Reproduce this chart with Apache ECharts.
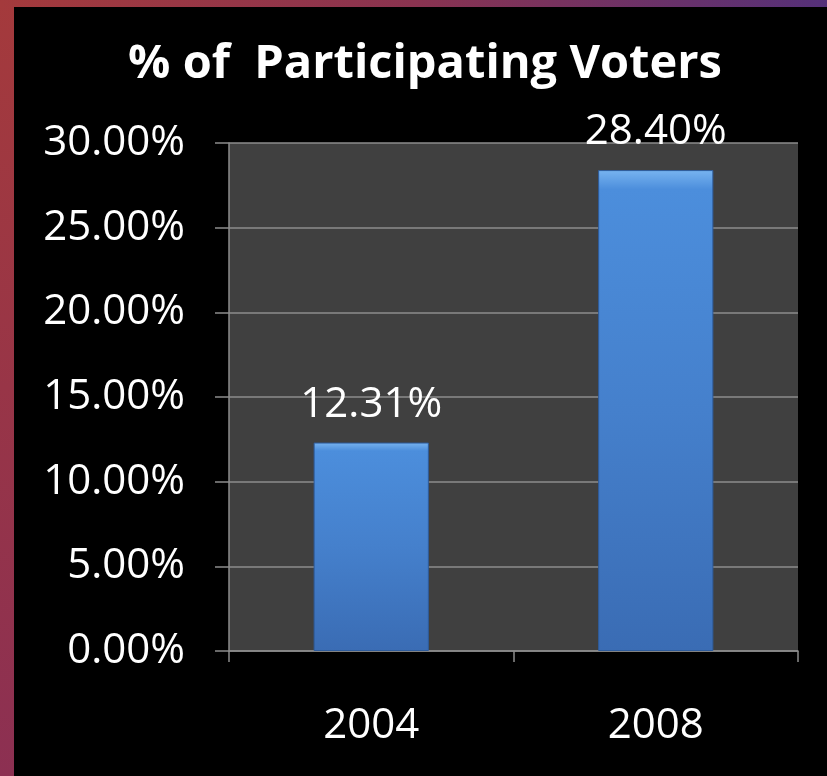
<!DOCTYPE html>
<html>
<head>
<meta charset="utf-8">
<script src="https://cdn.jsdelivr.net/npm/echarts@6/dist/echarts.min.js"></script>
<style>
html,body{margin:0;padding:0;width:827px;height:776px;overflow:hidden;}
body{background:linear-gradient(to bottom,#a43a3c 0%,#8c3052 100%);position:relative;}
#top{position:absolute;left:0;top:0;width:827px;height:7px;background:linear-gradient(to right,#a43a3c 0%,#8a3350 50%,#553079 100%);}
#chart{position:absolute;left:14px;top:7px;width:813px;height:769px;background:#000;}
</style>
</head>
<body>
<div id="top"></div>
<div id="chart"></div>
<script>
const titleText = '% of  Participating Voters';
const categories = ['2004', '2008'];
const values = [12.31, 28.40];
const yMin = 0, yMax = 30, yStep = 5;

const chart = echarts.init(document.getElementById('chart'), null, {renderer: 'canvas'});
const FONT = '"Open Sans", "Liberation Sans", sans-serif';
chart.setOption({
  backgroundColor: '#000',
  animation: false,
  title: {
    text: titleText,
    left: 406, top: 29, textAlign: 'center',
    textStyle: {color: '#fff', fontFamily: FONT, fontWeight: 'bold', fontSize: 47}
  },
  grid: {left: 215, right: 29, top: 136, bottom: 125, show: true, backgroundColor: '#404040', borderWidth: 0},
  xAxis: {
    type: 'category', data: categories,
    axisLine: {lineStyle: {color: '#8c8c8c', width: 1.5}},
    axisTick: {show: true, length: 11, lineStyle: {color: '#8c8c8c', width: 1.5}},
    axisLabel: {color: '#fff', fontFamily: FONT, fontSize: 42, margin: 54}
  },
  yAxis: {
    type: 'value', min: yMin, max: yMax, interval: yStep,
    axisLine: {show: true, lineStyle: {color: '#8c8c8c', width: 1.5}},
    axisTick: {show: true, length: 14, lineStyle: {color: '#8c8c8c', width: 1.5}},
    splitLine: {show: true, lineStyle: {color: '#8c8c8c', width: 1.5}},
    axisLabel: {color: '#fff', fontFamily: FONT, fontSize: 42, margin: 44,
      formatter: v => v.toFixed(2) + '%'}
  },
  series: [{
    type: 'bar', data: values, barWidth: '40.5%',
    itemStyle: {
      color: {type: 'linear', x: 0, y: 0, x2: 0, y2: 1, colorStops: [
        {offset: 0, color: '#78b4f0'}, {offset: 0.04, color: '#4c8edc'},
        {offset: 0.5, color: '#4580cc'}, {offset: 1, color: '#3a6cb4'}]},
      borderColor: '#2e5c9c', borderWidth: 1
    },
    label: {show: true, position: 'top', distance: 17, color: '#fff', fontFamily: FONT, fontSize: 42,
      formatter: p => p.value.toFixed(2) + '%'}
  }]
});
</script>
</body>
</html>
